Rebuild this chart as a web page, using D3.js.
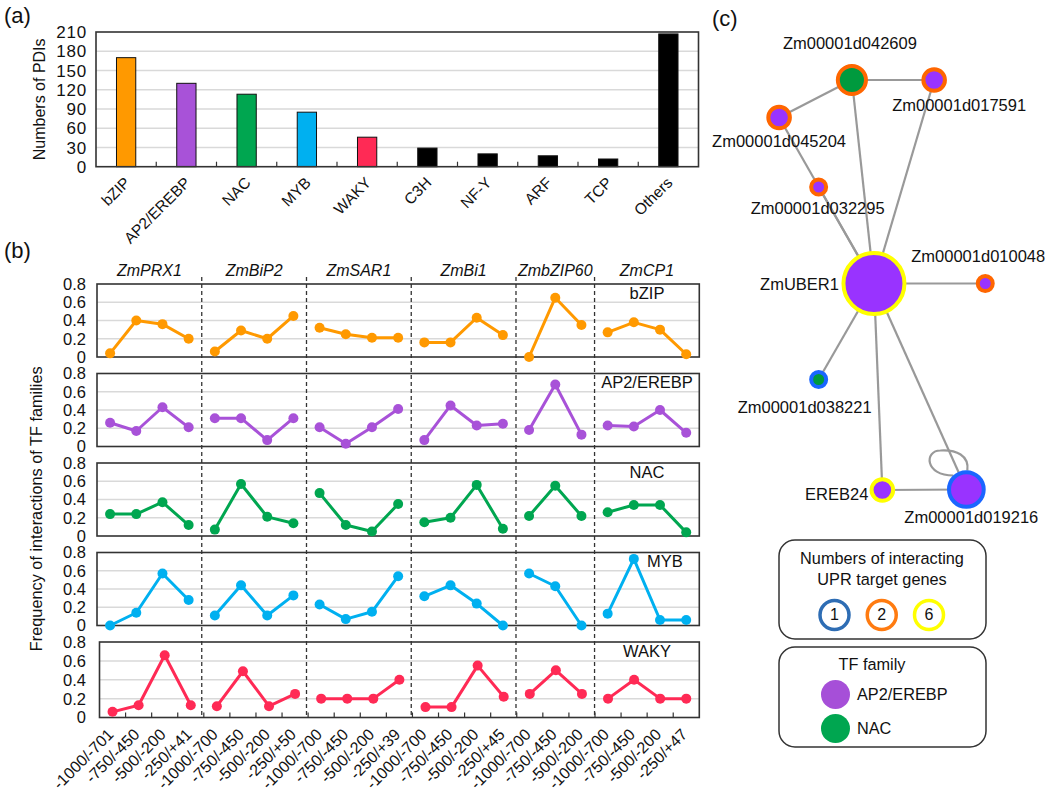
<!DOCTYPE html>
<html><head><meta charset="utf-8">
<script src="https://cdn.jsdelivr.net/npm/d3@7"></script>
<style>
body{margin:0;background:#fff;}
text{font-family:"Liberation Sans",Arial,Helvetica,sans-serif;fill:#111;}
</style></head><body>
<svg id="chart" width="1050" height="797"></svg>
<script>
// ================= DATA =================
// Panel (a)
const familyCats = ["bZIP","AP2/EREBP","NAC","MYB","WAKY","C3H","NF-Y","ARF","TCP","Others"];
const familyCounts = [170,130,113,85,46,29,20,17,12,207];
const familyColors = ["#ff9900","#a852d8","#00a650","#00b0f0","#ff2a55","#000000","#000000","#000000","#000000","#000000"];
const countTicks = [0,30,60,90,120,150,180,210];

// Panel (b)
const genes = ["ZmPRX1","ZmBiP2","ZmSAR1","ZmBi1","ZmbZIP60","ZmCP1"];
const geneRegions = [
  ["-1000/-701","-750/-450","-500/-200","-250/+41"],
  ["-1000/-700","-750/-450","-500/-200","-250/+50"],
  ["-1000/-700","-750/-450","-500/-200","-250/+39"],
  ["-1000/-700","-750/-450","-500/-200","-250/+45"],
  ["-1000/-700","-750/-450","-500/-200"],
  ["-1000/-700","-750/-450","-500/-200","-250/+47"]
];
const rowFamilies = ["bZIP","AP2/EREBP","NAC","MYB","WAKY"];
const rowColors = ["#ff9900","#a852d8","#00a650","#00b0f0","#ff2a55"];
const freqBZIP = [[0.04,0.40,0.36,0.20],[0.06,0.29,0.20,0.45],[0.32,0.25,0.21,0.21],[0.16,0.16,0.43,0.24],[0.00,0.65,0.35],[0.27,0.38,0.30,0.03]];
const freqAP2  = [[0.26,0.17,0.43,0.21],[0.31,0.31,0.07,0.31],[0.21,0.03,0.21,0.41],[0.07,0.45,0.23,0.25],[0.18,0.68,0.13],[0.23,0.22,0.40,0.15]];
const freqNAC  = [[0.24,0.24,0.37,0.12],[0.07,0.57,0.21,0.14],[0.47,0.12,0.05,0.35],[0.15,0.20,0.56,0.08],[0.22,0.55,0.22],[0.26,0.34,0.34,0.04]];
const freqMYB  = [[0.00,0.14,0.57,0.28],[0.11,0.44,0.11,0.33],[0.23,0.07,0.15,0.54],[0.32,0.44,0.24,0.00],[0.57,0.43,0.00],[0.13,0.73,0.06,0.06]];
const freqWAKY = [[0.06,0.13,0.66,0.13],[0.12,0.49,0.12,0.25],[0.20,0.20,0.20,0.40],[0.11,0.11,0.55,0.22],[0.25,0.50,0.25],[0.20,0.40,0.20,0.20]];
const freqTicks = [0,0.2,0.4,0.6,0.8];

// Panel (c)
const netNodes = [
  {id:"Zm00001d042609", family:"NAC",       targets:2},
  {id:"Zm00001d017591", family:"AP2/EREBP", targets:2},
  {id:"Zm00001d045204", family:"AP2/EREBP", targets:2},
  {id:"Zm00001d032295", family:"AP2/EREBP", targets:2},
  {id:"ZmUBER1",        family:"AP2/EREBP", targets:6},
  {id:"Zm00001d010048", family:"AP2/EREBP", targets:2},
  {id:"Zm00001d038221", family:"NAC",       targets:1},
  {id:"EREB24",         family:"AP2/EREBP", targets:6},
  {id:"Zm00001d019216", family:"AP2/EREBP", targets:1}
];
const netEdges = [
  ["Zm00001d042609","Zm00001d017591"],
  ["Zm00001d042609","Zm00001d045204"],
  ["Zm00001d042609","ZmUBER1"],
  ["Zm00001d017591","ZmUBER1"],
  ["Zm00001d045204","ZmUBER1"],
  ["Zm00001d032295","ZmUBER1"],
  ["ZmUBER1","Zm00001d010048"],
  ["ZmUBER1","Zm00001d038221"],
  ["ZmUBER1","EREB24"],
  ["ZmUBER1","Zm00001d019216"],
  ["EREB24","Zm00001d019216"],
  ["Zm00001d019216","Zm00001d019216"]
];
const targetLegend = [1,2,6];
const familyLegend = ["AP2/EREBP","NAC"];

// ================= LAYOUT / STYLE =================
const svg = d3.select("#chart");
const frameCol = "#333", gridCol = "#d9d9d9";

// panel letters
[["(a)",4,23],["(b)",4,258],["(c)",712,26]].forEach(([t,x,y])=>{
  svg.append("text").attr("x",x).attr("y",y).attr("font-size",22).text(t);
});

// ---------- Panel (a) ----------
const A = {l:96, r:698.5, t:32, b:166.7};
const ax = d3.scaleBand().domain(familyCats).range([A.l,A.r]).paddingInner(0.68).paddingOuter(0.34);
const ay = d3.scaleLinear().domain([0,210]).range([A.b,A.t]);
const gA = svg.append("g");
gA.selectAll("line.grid").data(countTicks.filter(d=>d>0 && d<210)).join("line")
  .attr("x1",A.l).attr("x2",A.r).attr("y1",d=>ay(d)).attr("y2",d=>ay(d))
  .attr("stroke",gridCol).attr("stroke-width",1.5);
gA.selectAll("rect.bar").data(familyCats).join("rect")
  .attr("x",d=>ax(d)).attr("width",ax.bandwidth())
  .attr("y",(d,i)=>ay(familyCounts[i])).attr("height",(d,i)=>A.b-ay(familyCounts[i]))
  .attr("fill",(d,i)=>familyColors[i]).attr("stroke","#111").attr("stroke-width",1);
const stepA = ax.step();
gA.selectAll("line.xt").data(familyCats.slice(1)).join("line")
  .attr("x1",d=>ax(d)+ax.bandwidth()/2-stepA/2).attr("x2",d=>ax(d)+ax.bandwidth()/2-stepA/2)
  .attr("y1",A.b).attr("y2",A.b-5).attr("stroke",frameCol).attr("stroke-width",1.2);
gA.append("rect").attr("x",A.l).attr("y",A.t).attr("width",A.r-A.l).attr("height",A.b-A.t)
  .attr("fill","none").attr("stroke",frameCol).attr("stroke-width",1.6);
gA.selectAll("text.yt").data(countTicks).join("text")
  .attr("x",A.l-9).attr("y",d=>ay(d)).attr("dy","0.36em").attr("text-anchor","end")
  .attr("font-size",17).attr("letter-spacing",0.8).text(d=>d);
gA.selectAll("text.xl").data(familyCats).join("text")
  .attr("transform",d=>`translate(${ax(d)+ax.bandwidth()/2+5},${A.b+17}) rotate(-45)`)
  .attr("text-anchor","end").attr("font-size",15.5).text(d=>d);
gA.append("text").attr("transform",`translate(45,${(A.t+A.b)/2}) rotate(-90)`)
  .attr("text-anchor","middle").attr("font-size",16).text("Numbers of PDIs");

// ---------- Panel (b) ----------
const keys = genes.flatMap((g,i)=>geneRegions[i].map(r=>g+"|"+r));
const B = {l:97, r:699.3};
const rowTop = [284,373.5,463,552.5,642];
const rowH = [73,73,73,73,75.5];
const rowLeft = [97,97,97,97,99.5];
const rowLabelX = [647,647,647,665,647];
const rowData = [freqBZIP,freqAP2,freqNAC,freqMYB,freqWAKY];
const bxMain = d3.scaleBand().domain(keys).range([B.l,B.r]);
const gB = svg.append("g");

rowFamilies.forEach((fam,ri)=>{
  const bx = d3.scaleBand().domain(keys).range([rowLeft[ri],B.r]);
  const y = d3.scaleLinear().domain([0,0.8]).range([rowTop[ri]+rowH[ri],rowTop[ri]]);
  const g = gB.append("g");
  g.selectAll("line.grid").data([0.2,0.4,0.6]).join("line")
    .attr("x1",rowLeft[ri]).attr("x2",B.r).attr("y1",d=>y(d)).attr("y2",d=>y(d))
    .attr("stroke",gridCol).attr("stroke-width",1.5);
  g.append("rect").attr("x",rowLeft[ri]).attr("y",rowTop[ri]).attr("width",B.r-rowLeft[ri]).attr("height",rowH[ri])
    .attr("fill","none").attr("stroke",frameCol).attr("stroke-width",1.6);
  g.selectAll("text.yt").data(freqTicks).join("text")
    .attr("x",86).attr("y",d=>y(d)).attr("dy","0.36em").attr("text-anchor","end")
    .attr("font-size",16.5).text(d=>d===0?"0":d.toFixed(1));
  g.append("text").attr("x",rowLabelX[ri]).attr("y",rowTop[ri]+9).attr("dy","0.36em")
    .attr("text-anchor","middle").attr("font-size",16.5).text(fam);
  genes.forEach((gene,gi)=>{
    const pts = rowData[ri][gi].map((v,k)=>({x:bx(gene+"|"+geneRegions[gi][k])+bx.bandwidth()/2, y:y(v)}));
    g.append("path").datum(pts)
      .attr("d",d3.line().x(d=>d.x).y(d=>d.y))
      .attr("fill","none").attr("stroke",rowColors[ri]).attr("stroke-width",3).attr("stroke-linejoin","round");
    g.selectAll(null).data(pts).join("circle")
      .attr("cx",d=>d.x).attr("cy",d=>d.y).attr("r",5).attr("fill",rowColors[ri]);
  });
});

// separators & gene headers
const bw = bxMain.bandwidth();
genes.forEach((gene,gi)=>{
  const first = bxMain(gene+"|"+geneRegions[gi][0]);
  const last = bxMain(gene+"|"+geneRegions[gi][geneRegions[gi].length-1])+bw;
  gB.append("text").attr("x",(first+last)/2).attr("y",270).attr("dy","0.36em")
    .attr("text-anchor","middle").attr("font-size",16).attr("font-style","italic").text(gene);
  if(gi>0){
    gB.append("line").attr("x1",first).attr("x2",first).attr("y1",277).attr("y2",718)
      .attr("stroke",frameCol).attr("stroke-width",1.3).attr("stroke-dasharray","4,3");
  }
});
// bottom ticks & labels (use last row scale)
const bxLast = d3.scaleBand().domain(keys).range([rowLeft[4],B.r]);
const yBottom = rowTop[4]+rowH[4];
gB.selectAll("line.xt").data(keys.slice(1)).join("line")
  .attr("x1",d=>bxLast(d)).attr("x2",d=>bxLast(d)).attr("y1",yBottom).attr("y2",yBottom-5)
  .attr("stroke",frameCol).attr("stroke-width",1.2);
gB.selectAll("text.xl").data(keys).join("text")
  .attr("transform",d=>`translate(${bxLast(d)+bxLast.bandwidth()/2+2},${yBottom+18}) rotate(-45)`)
  .attr("text-anchor","end").attr("font-size",16).text(d=>d.split("|")[1]);
gB.append("text").attr("transform",`translate(42,${(rowTop[0]+yBottom)/2+8}) rotate(-90)`)
  .attr("text-anchor","middle").attr("font-size",16.3).text("Frequency of interactions of TF families");

// ---------- Panel (c) ----------
const nodeLayout = {
  "Zm00001d042609":[43.4,10.0], "Zm00001d017591":[66.9,10.0], "Zm00001d045204":[22.6,17.5],
  "Zm00001d032295":[33.9,31.4], "ZmUBER1":[49.7,50.7], "Zm00001d010048":[81.5,50.7],
  "Zm00001d038221":[33.9,69.9], "EREB24":[52.1,92.0], "Zm00001d019216":[76.1,91.9]
};
const labelLayout = {
  "Zm00001d042609":[-2,-37,"middle"], "Zm00001d017591":[25,25,"middle"], "Zm00001d045204":[0,23.5,"middle"],
  "Zm00001d032295":[-1,21,"middle"], "ZmUBER1":[-35,1,"end"], "Zm00001d010048":[-7,-27,"middle"],
  "Zm00001d038221":[-14,28,"middle"], "EREB24":[-14,4.5,"end"], "Zm00001d019216":[5,28,"middle"]
};
const nx = d3.scaleLinear().domain([0,100]).range([700,1050]);
const ny = d3.scaleLinear().domain([0,100]).range([30,530]);
const degree = {};
netNodes.forEach(n=>degree[n.id]=0);
netEdges.forEach(([a,b])=>{degree[a]++;degree[b]++;});
const rScale = d3.scaleLinear().domain([1,8]).range([9.5,32.5]);
const famFill = d3.scaleOrdinal().domain(["AP2/EREBP","NAC"]).range(["#9933ff","#009a3e"]);
const ringCol = d3.scaleOrdinal().domain([1,2,6]).range(["#1a66ff","#ff6600","#ffff00"]);
const pos = id=>({x:nx(nodeLayout[id][0]), y:ny(nodeLayout[id][1])});
const gC = svg.append("g");
netEdges.forEach(([a,b])=>{
  const p=pos(a), q=pos(b);
  if(a===b){
    const c = p;
    gC.append("path")
      .attr("d",`M${c.x-13},${c.y-14} C${c.x-42},${c.y-14} ${c.x-42},${c.y-39} ${c.x-26},${c.y-39} C${c.x-10},${c.y-40} ${c.x+3},${c.y-34} ${c.x+1},${c.y-19}`)
      .attr("fill","none").attr("stroke","#999").attr("stroke-width",2.2);
  } else {
    gC.append("line").attr("x1",p.x).attr("y1",p.y).attr("x2",q.x).attr("y2",q.y)
      .attr("stroke","#999").attr("stroke-width",2.2);
  }
});
gC.selectAll("circle.node").data(netNodes).join("circle")
  .attr("cx",d=>pos(d.id).x).attr("cy",d=>pos(d.id).y)
  .attr("r",d=>rScale(degree[d.id])-2)
  .attr("fill",d=>famFill(d.family)).attr("stroke",d=>ringCol(d.targets)).attr("stroke-width",4);
gC.selectAll("text.nl").data(netNodes).join("text")
  .attr("x",d=>pos(d.id).x+labelLayout[d.id][0]).attr("y",d=>pos(d.id).y+labelLayout[d.id][1])
  .attr("dy","0.36em").attr("text-anchor",d=>labelLayout[d.id][2]).attr("font-size",16.5).text(d=>d.id);

// legends
const L1 = {x:779,y:540,w:207,h:99};
gC.append("rect").attr("x",L1.x).attr("y",L1.y).attr("width",L1.w).attr("height",L1.h).attr("rx",16)
  .attr("fill","#fff").attr("stroke",frameCol).attr("stroke-width",1.5);
gC.append("text").attr("x",882).attr("y",558).attr("dy","0.36em").attr("text-anchor","middle").attr("font-size",16.3).text("Numbers of interacting");
gC.append("text").attr("x",882).attr("y",579).attr("dy","0.36em").attr("text-anchor","middle").attr("font-size",16.3).text("UPR target genes");
const legRing = d3.scaleOrdinal().domain([1,2,6]).range(["#2e6db4","#ff7b10","#ffff00"]);
const lx = d3.scalePoint().domain(targetLegend).range([834.5,929]);
targetLegend.forEach(v=>{
  gC.append("circle").attr("cx",lx(v)).attr("cy",615).attr("r",14.5).attr("fill","#fff")
    .attr("stroke",legRing(v)).attr("stroke-width",3.5);
  gC.append("text").attr("x",lx(v)).attr("y",614).attr("dy","0.36em").attr("text-anchor","middle").attr("font-size",16).text(v);
});
const L2 = {x:779,y:647,w:207,h:100};
gC.append("rect").attr("x",L2.x).attr("y",L2.y).attr("width",L2.w).attr("height",L2.h).attr("rx",16)
  .attr("fill","#fff").attr("stroke",frameCol).attr("stroke-width",1.5);
gC.append("text").attr("x",872).attr("y",664).attr("dy","0.36em").attr("text-anchor","middle").attr("font-size",16.3).text("TF family");
const legFill = d3.scaleOrdinal().domain(["AP2/EREBP","NAC"]).range(["#a64fd8","#00a650"]);
const ly = d3.scalePoint().domain(familyLegend).range([694.5,728.5]);
familyLegend.forEach(f=>{
  gC.append("circle").attr("cx",835.5).attr("cy",ly(f)).attr("r",14.5).attr("fill",legFill(f));
  gC.append("text").attr("x",857).attr("y",ly(f)).attr("dy","0.36em").attr("font-size",16.3).text(f);
});
</script></body></html>
